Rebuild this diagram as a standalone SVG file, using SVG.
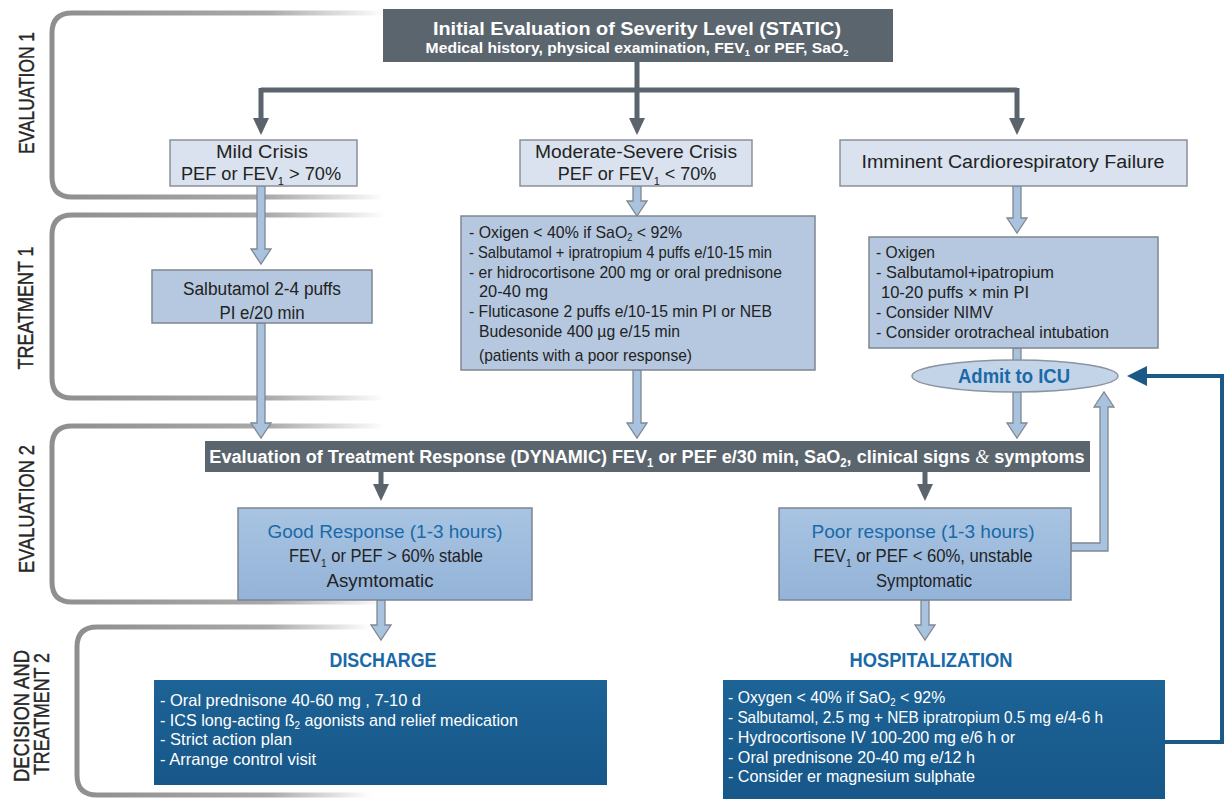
<svg xmlns="http://www.w3.org/2000/svg" width="1224" height="799" viewBox="0 0 1224 799">
<defs>
<linearGradient id="fade" gradientUnits="userSpaceOnUse" x1="50" y1="0" x2="385" y2="0">
<stop offset="0" stop-color="#8e8e8e"/><stop offset="0.65" stop-color="#a9a9a9"/><stop offset="1" stop-color="#ffffff"/>
</linearGradient>
<linearGradient id="fade2" gradientUnits="userSpaceOnUse" x1="75" y1="0" x2="372" y2="0">
<stop offset="0" stop-color="#8e8e8e"/><stop offset="0.65" stop-color="#a9a9a9"/><stop offset="1" stop-color="#ffffff"/>
</linearGradient>
<linearGradient id="resp" x1="0" y1="0" x2="0" y2="1">
<stop offset="0" stop-color="#a9c4e2"/><stop offset="1" stop-color="#93b3d8"/>
</linearGradient>
<linearGradient id="dblue" x1="0" y1="0" x2="0" y2="1">
<stop offset="0" stop-color="#1d6396"/><stop offset="1" stop-color="#175789"/>
</linearGradient>
</defs>
<style>
text{font-family:"Liberation Sans",Arial,sans-serif}
.brk{fill:none;stroke:url(#fade);stroke-width:5}
.side{font-size:22px;fill:#262626;stroke:#262626;stroke-width:0.4}
.dark{fill:#5b656e}
.hdr{fill:#d9e2ee;stroke:#8a9099;stroke-width:1.5}
.tx{fill:#b5c8df;stroke:#7e8790;stroke-width:1.5}
.rsp{fill:url(#resp);stroke:#7b8591;stroke-width:1.5}
.db{fill:url(#dblue)}
.wt{fill:#ffffff;font-weight:bold}
.bk{fill:#222;font-size:18px}
.sm{font-size:17px}
.bl{fill:#1a69a8}
.ww{fill:#ffffff;font-size:16.5px}
.hol{fill:#a9c2de;stroke:#7f8892;stroke-width:1.3}
.dk{stroke:#5b646d;stroke-width:5;fill:none}
.dkh{fill:#5b646d}
</style>

<g id="brackets">
<path class="brk" d="M385 13 H72 Q52 13 52 33 V177 Q52 197 72 197 H385"/>
<path class="brk" d="M385 215 H72 Q52 215 52 235 V378 Q52 398 72 398 H385"/>
<path class="brk" d="M385 426 H72 Q52 426 52 446 V582 Q52 602 72 602 H385"/>
<path class="brk" style="stroke:url(#fade2)" d="M372 627 H97 Q77 627 77 647 V775 Q77 795 97 795 H372"/>
</g>

<g id="labels">
<text class="side" transform="translate(34,93) rotate(-90)" text-anchor="middle" textLength="122" lengthAdjust="spacingAndGlyphs">EVALUATION 1</text>
<text class="side" transform="translate(33,308) rotate(-90)" text-anchor="middle" textLength="123" lengthAdjust="spacingAndGlyphs">TREATMENT 1</text>
<text class="side" transform="translate(34,509) rotate(-90)" text-anchor="middle" textLength="128" lengthAdjust="spacingAndGlyphs">EVALUATION 2</text>
<text class="side" transform="translate(29,716) rotate(-90)" text-anchor="middle" textLength="132" lengthAdjust="spacingAndGlyphs">DECISION AND</text>
<text class="side" transform="translate(49,714) rotate(-90)" text-anchor="middle" textLength="122" lengthAdjust="spacingAndGlyphs">TREATMENT 2</text>
</g>

<g id="connectors">
<path class="dk" d="M637 62 V90 M261 90 H1017 M261 88 V120 M637 88 V120 M1017 88 V120"/>
<polygon class="dkh" points="253,118 269,118 261,135"/>
<polygon class="dkh" points="629,118 645,118 637,135"/>
<polygon class="dkh" points="1009,118 1025,118 1017,135"/>
<path class="dk" d="M381 472 V486 M925 472 V486"/>
<polygon class="dkh" points="373,484 389,484 381,501"/>
<polygon class="dkh" points="917,484 933,484 925,501"/>
<path class="hol" d="M257 186 V249 H251 L261 264 L271 249 H265 V186 Z"/>
<path class="hol" d="M633 186 V201 H627 L637 216 L647 201 H641 V186 Z"/>
<path class="hol" d="M1013 186 V218 H1007 L1017 233 L1027 218 H1021 V186 Z"/>
<path class="hol" d="M257 323 V423 H251 L261 438 L271 423 H265 V323 Z"/>
<path class="hol" d="M633 370 V423 H627 L637 438 L647 423 H641 V370 Z"/>
<path class="hol" d="M1013 348 V361 H1021 V348 Z"/>
<path class="hol" d="M1013 392 V423 H1007 L1017 438 L1027 423 H1021 V392 Z"/>
<path class="hol" d="M1071 543 H1100 V407 H1094 L1104 392 L1114 407 H1108 V551 H1071 Z"/>
<path class="hol" d="M377 600 V625 H371 L381 640 L391 625 H385 V600 Z"/>
<path class="hol" d="M921 600 V625 H915 L925 640 L935 625 H929 V600 Z"/>
<path d="M1163 742 H1222 V376 H1146" fill="none" stroke="#1b5a86" stroke-width="4"/>
<polygon points="1127,376 1147,366 1147,386" fill="#1b5a86"/>
</g>

<g id="n-initial">
<rect class="dark" x="383" y="9" width="510" height="53"/>
<text class="wt" x="637" y="35" font-size="19" text-anchor="middle" textLength="408" lengthAdjust="spacingAndGlyphs">Initial Evaluation of Severity Level (STATIC)</text>
<text class="wt" transform="translate(637,53) scale(1.045,1)" x="0" y="0" font-size="15" text-anchor="middle">Medical history, physical examination, FEV<tspan font-size="9" dy="3">1</tspan><tspan dy="-3"> or PEF, SaO</tspan><tspan font-size="9" dy="3">2</tspan></text>
</g>

<g id="n-mild">
<rect class="hdr" x="170" y="140" width="187" height="46"/>
<text class="bk" x="262" y="158" text-anchor="middle" textLength="92" lengthAdjust="spacingAndGlyphs">Mild Crisis</text>
<text class="bk" transform="translate(261,180) scale(1.01,1)" x="0" y="0" text-anchor="middle">PEF or FEV<tspan font-size="11" dy="5">1</tspan><tspan dy="-5"> &gt; 70%</tspan></text>
</g>

<g id="n-moderate">
<rect class="hdr" x="520" y="140" width="232" height="46"/>
<text class="bk" x="636" y="158" text-anchor="middle" textLength="202" lengthAdjust="spacingAndGlyphs">Moderate-Severe Crisis</text>
<text class="bk" transform="translate(637,180)" x="0" y="0" text-anchor="middle">PEF or FEV<tspan font-size="11" dy="5">1</tspan><tspan dy="-5"> &lt; 70%</tspan></text>
</g>

<g id="n-imminent">
<rect class="hdr" x="840" y="140" width="347" height="46"/>
<text class="bk" x="1013" y="168" text-anchor="middle" textLength="303" lengthAdjust="spacingAndGlyphs">Imminent Cardiorespiratory Failure</text>
</g>

<g id="n-salbutamol">
<rect class="tx" x="152" y="270" width="220" height="53"/>
<text class="bk" x="262" y="295" font-size="19" text-anchor="middle" textLength="158" lengthAdjust="spacingAndGlyphs">Salbutamol 2-4 puffs</text>
<text class="bk" x="262" y="319" font-size="19" text-anchor="middle" textLength="85" lengthAdjust="spacingAndGlyphs">PI e/20 min</text>
</g>

<g id="n-moderate-tx">
<rect class="tx" x="461" y="216" width="354" height="154"/>
<text class="bk sm" transform="translate(469,238) scale(0.933,1)" x="0" y="0">- Oxigen &lt; 40% if SaO<tspan font-size="10" dy="3">2</tspan><tspan dy="-3"> &lt; 92%</tspan></text>
<text class="bk sm" x="469" y="258" textLength="303" lengthAdjust="spacingAndGlyphs">- Salbutamol + ipratropium 4 puffs e/10-15 min</text>
<text class="bk sm" x="469" y="278" textLength="313" lengthAdjust="spacingAndGlyphs">- er hidrocortisone 200 mg or oral prednisone</text>
<text class="bk sm" x="479" y="297" textLength="69" lengthAdjust="spacingAndGlyphs">20-40 mg</text>
<text class="bk sm" x="469" y="317" textLength="303" lengthAdjust="spacingAndGlyphs">- Fluticasone 2 puffs e/10-15 min  PI or NEB</text>
<text class="bk sm" x="479" y="337" textLength="201" lengthAdjust="spacingAndGlyphs">Budesonide 400 µg e/15 min</text>
<text class="bk sm" x="479" y="361" textLength="213" lengthAdjust="spacingAndGlyphs">(patients with a poor response)</text>
</g>

<g id="n-imminent-tx">
<rect class="tx" x="869" y="237" width="289" height="111"/>
<text class="bk sm" x="876" y="258" textLength="59" lengthAdjust="spacingAndGlyphs">- Oxigen</text>
<text class="bk sm" x="876" y="278" textLength="178" lengthAdjust="spacingAndGlyphs">- Salbutamol+ipatropium</text>
<text class="bk sm" x="881" y="298" textLength="148" lengthAdjust="spacingAndGlyphs">10-20 puffs × min PI</text>
<text class="bk sm" x="876" y="318" textLength="117" lengthAdjust="spacingAndGlyphs">- Consider NIMV</text>
<text class="bk sm" x="876" y="338" textLength="233" lengthAdjust="spacingAndGlyphs">- Consider orotracheal intubation</text>
</g>

<g id="n-icu">
<ellipse cx="1015" cy="376" rx="103" ry="16" fill="#c4d4e8" stroke="#8a949f" stroke-width="1.5"/>
<text class="bl" x="1014" y="383" font-size="20" font-weight="bold" text-anchor="middle" textLength="112" lengthAdjust="spacingAndGlyphs">Admit to ICU</text>
</g>

<g id="n-eval2">
<rect class="dark" x="205" y="441" width="885" height="31"/>
<text class="wt" transform="translate(647,463) scale(0.952,1)" x="0" y="0" font-size="19" text-anchor="middle">Evaluation of Treatment Response (DYNAMIC) FEV<tspan font-size="12" dy="4">1</tspan><tspan dy="-4"> or PEF e/30 min, SaO</tspan><tspan font-size="12" dy="4">2</tspan><tspan dy="-4">, clinical signs </tspan><tspan font-family="Liberation Serif,serif" font-style="italic" font-weight="normal">&amp;</tspan><tspan> symptoms</tspan></text>
</g>

<g id="n-good">
<rect class="rsp" x="238" y="508" width="294" height="92"/>
<text class="bl" x="385" y="538" font-size="19" text-anchor="middle" textLength="235" lengthAdjust="spacingAndGlyphs">Good Response (1-3 hours)</text>
<text class="bk" transform="translate(386,562) scale(0.917,1)" x="0" y="0" text-anchor="middle">FEV<tspan font-size="11" dy="5">1</tspan><tspan dy="-5"> or PEF &gt; 60% stable</tspan></text>
<text class="bk" x="380" y="587" text-anchor="middle" textLength="107" lengthAdjust="spacingAndGlyphs">Asymtomatic</text>
</g>

<g id="n-poor">
<rect class="rsp" x="779" y="508" width="292" height="92"/>
<text class="bl" x="923" y="538" font-size="19" text-anchor="middle" textLength="223" lengthAdjust="spacingAndGlyphs">Poor response (1-3 hours)</text>
<text class="bk" transform="translate(923,562) scale(0.926,1)" x="0" y="0" text-anchor="middle">FEV<tspan font-size="11" dy="5">1</tspan><tspan dy="-5"> or PEF &lt; 60%, unstable</tspan></text>
<text class="bk" x="924" y="587" text-anchor="middle" textLength="96" lengthAdjust="spacingAndGlyphs">Symptomatic</text>
</g>

<g id="n-discharge">
<text class="bl" x="383" y="667" font-size="20" font-weight="bold" text-anchor="middle" textLength="107" lengthAdjust="spacingAndGlyphs">DISCHARGE</text>
<rect class="db" x="154" y="680" width="453" height="105"/>
<text class="ww" x="160" y="706" textLength="261" lengthAdjust="spacingAndGlyphs">- Oral prednisone 40-60 mg , 7-10 d</text>
<text class="ww" transform="translate(160,726) scale(0.979,1)" x="0" y="0">- ICS long-acting ß<tspan font-size="10" dy="3">2</tspan><tspan dy="-3"> agonists and relief medication</tspan></text>
<text class="ww" x="160" y="745" textLength="132" lengthAdjust="spacingAndGlyphs">- Strict action plan</text>
<text class="ww" x="160" y="765" textLength="156" lengthAdjust="spacingAndGlyphs">- Arrange control visit</text>
</g>

<g id="n-hospital">
<text class="bl" x="931" y="667" font-size="20" font-weight="bold" text-anchor="middle" textLength="163" lengthAdjust="spacingAndGlyphs">HOSPITALIZATION</text>
<rect class="db" x="723" y="680" width="442" height="119"/>
<text class="ww" transform="translate(728,703) scale(0.959,1)" x="0" y="0">- Oxygen &lt; 40% if SaO<tspan font-size="10" dy="3">2</tspan><tspan dy="-3"> &lt; 92%</tspan></text>
<text class="ww" x="728" y="723" textLength="375" lengthAdjust="spacingAndGlyphs">- Salbutamol, 2.5 mg +  NEB ipratropium 0.5 mg  e/4-6 h</text>
<text class="ww" x="728" y="743" textLength="287" lengthAdjust="spacingAndGlyphs">- Hydrocortisone IV 100-200 mg e/6 h or</text>
<text class="ww" x="728" y="763" textLength="247" lengthAdjust="spacingAndGlyphs">- Oral prednisone 20-40 mg e/12 h</text>
<text class="ww" x="728" y="782" textLength="247" lengthAdjust="spacingAndGlyphs">- Consider  er magnesium sulphate</text>
</g>
</svg>
